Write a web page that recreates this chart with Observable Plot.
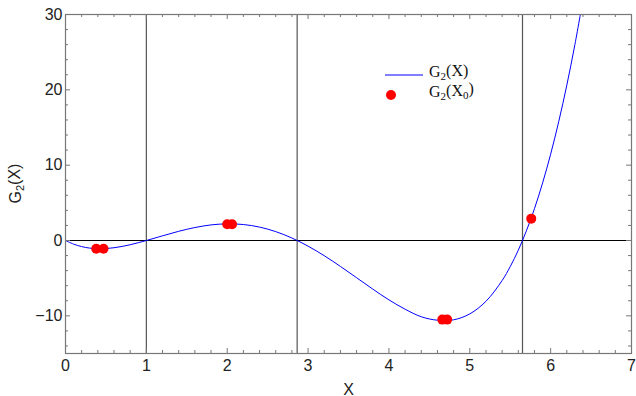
<!DOCTYPE html>
<html><head><meta charset="utf-8">
<script src="https://cdn.jsdelivr.net/npm/d3@7"></script>
<script src="https://cdn.jsdelivr.net/npm/@observablehq/plot@0.6"></script>
<style>body{margin:0;background:#fff}</style>
</head><body><div id="chart"></div>
<script>
// G2(X) curve
const curveX = [0,0.1,0.2,0.3,0.4,0.5,0.6,0.7,0.8,0.9,1.0,1.2,1.4,1.6,1.8,2.0,2.2,2.4,2.6,2.8,3.0,3.2,3.4,3.6,3.8,4.0,4.2,4.4,4.6,4.8,5.0,5.2,5.4,5.5,5.6,5.7,5.8,5.9,6.0,6.1,6.2,6.3,6.4];
const curveY = [0,-0.48,-0.81,-1.01,-1.09,-1.07,-0.96,-0.79,-0.56,-0.29,0,0.62,1.22,1.72,2.07,2.21,2.12,1.78,1.18,0.33,-0.75,-2.02,-3.44,-4.94,-6.45,-7.88,-9.12,-10.12,-10.58,-10.53,-9.74,-8.07,-5.31,-3.47,-1.28,1.28,4.23,7.62,11.46,15.78,20.62,26.01,31.98];
// G2(X0) points
const pointX = [0.38,0.47,2.0,2.06,4.66,4.72,5.76];
const pointY = [-1.1,-1.1,2.15,2.15,-10.5,-10.5,2.9];
// vertical reference lines (roots)
const rootLines = [1, 2.865, 5.652];
const xTicks = [0,1,2,3,4,5,6,7];
const yTicks = [-10,0,10,20,30];
const xMinor = d3.range(0, 7.001, 0.2).filter(v => Math.abs(v - Math.round(v)) > 1e-6);
const yMinor = d3.range(-14, 30, 2).filter(v => v % 10 !== 0);
// labels as [main, subscript, rest] pieces
const yLabelParts = [["G", false], ["2", true], ["(X)", false]];
const legendParts = [
  [["G", false], ["2", true], ["(X)", false]],
  [["G", false], ["2", true], ["(X", false], ["0", true], [")", false]]
];

const W = 636, H = 396;
const mt = 14, mr = 5, mb = 43, ml = 65;
const iw = W - ml - mr, ih = H - mt - mb;

const curve = curveX.map((x, i) => ({x, y: curveY[i]}));
const pts = pointX.map((x, i) => ({x, y: pointY[i]}));
const tc = "#777";
const fmt = d => (d < 0 ? "\u2212" + Math.abs(d) : String(d));

const chart = Plot.plot({
  width: W, height: H,
  marginTop: mt, marginRight: mr, marginBottom: mb, marginLeft: ml,
  style: {fontFamily: "'Liberation Sans', Arial, sans-serif", fontSize: "16px", color: "#222", background: "#fff", overflow: "visible"},
  x: {domain: [0, 7], ticks: xTicks, tickFormat: fmt, tickSize: 0, tickPadding: 6, label: "X", labelAnchor: "center", labelOffset: 41, labelArrow: "none"},
  y: {domain: [-15, 30], ticks: yTicks, tickFormat: fmt, tickSize: 0, tickPadding: 3, label: null},
  marks: [
    Plot.ruleX(rootLines, {x: d => d, stroke: "#555", strokeWidth: 1.2}),
    Plot.ruleY([0], {y: d => d, stroke: "#000", strokeWidth: 1}),
    Plot.line(curve, {x: "x", y: "y", stroke: "#0000ff", strokeWidth: 1, curve: "catmull-rom", clip: true}),
    Plot.dot(pts, {x: "x", y: "y", r: 5, fill: "#ff0000", stroke: "none"}),
    // inward ticks on all four sides
    Plot.tickX(xTicks, {x: d => d, insetTop: ih - 5, stroke: tc}),
    Plot.tickX(xTicks, {x: d => d, insetBottom: ih - 5, stroke: tc}),
    Plot.tickX(xMinor, {x: d => d, insetTop: ih - 3, stroke: tc}),
    Plot.tickX(xMinor, {x: d => d, insetBottom: ih - 3, stroke: tc}),
    Plot.tickY(yTicks, {y: d => d, insetRight: iw - 5, stroke: tc}),
    Plot.tickY(yTicks, {y: d => d, insetLeft: iw - 5, stroke: tc}),
    Plot.tickY(yMinor, {y: d => d, insetRight: iw - 3, stroke: tc}),
    Plot.tickY(yMinor, {y: d => d, insetLeft: iw - 3, stroke: tc}),
    Plot.frame({stroke: tc, strokeWidth: 1.2})
  ]
});

const svg = d3.select(chart);
function addParts(textSel, parts, subSize) {
  parts.forEach(([s, sub], i) => {
    const t = textSel.append("tspan").text(s);
    if (sub) t.attr("font-size", subSize).attr("dy", "0.3em");
    else if (i > 0 && parts[i - 1][1]) t.attr("dy", "-0.3em");
  });
}
// y axis label
const yl = svg.append("text")
  .attr("transform", `translate(21,${(mt + H - mb) / 2}) rotate(-90)`)
  .attr("text-anchor", "middle")
  .attr("font-family", "'Liberation Sans', Arial, sans-serif")
  .attr("font-size", 16).attr("fill", "#222");
addParts(yl, yLabelParts, 11);

// legend
const lg = svg.append("g").attr("font-family", "'Liberation Serif', 'Times New Roman', serif").attr("font-size", 16).attr("fill", "#111").attr("text-anchor", "start");
lg.append("line").attr("x1", 385).attr("x2", 423).attr("y1", 75).attr("y2", 75).attr("stroke", "#5555ff").attr("stroke-width", 1.3);
lg.append("circle").attr("cx", 391).attr("cy", 95).attr("r", 5).attr("fill", "#ff0000");
addParts(lg.append("text").attr("x", 429).attr("y", 77), legendParts[0], 11);
addParts(lg.append("text").attr("x", 429).attr("y", 97), legendParts[1], 11);

document.getElementById("chart").appendChild(chart);
</script>
</body></html>
